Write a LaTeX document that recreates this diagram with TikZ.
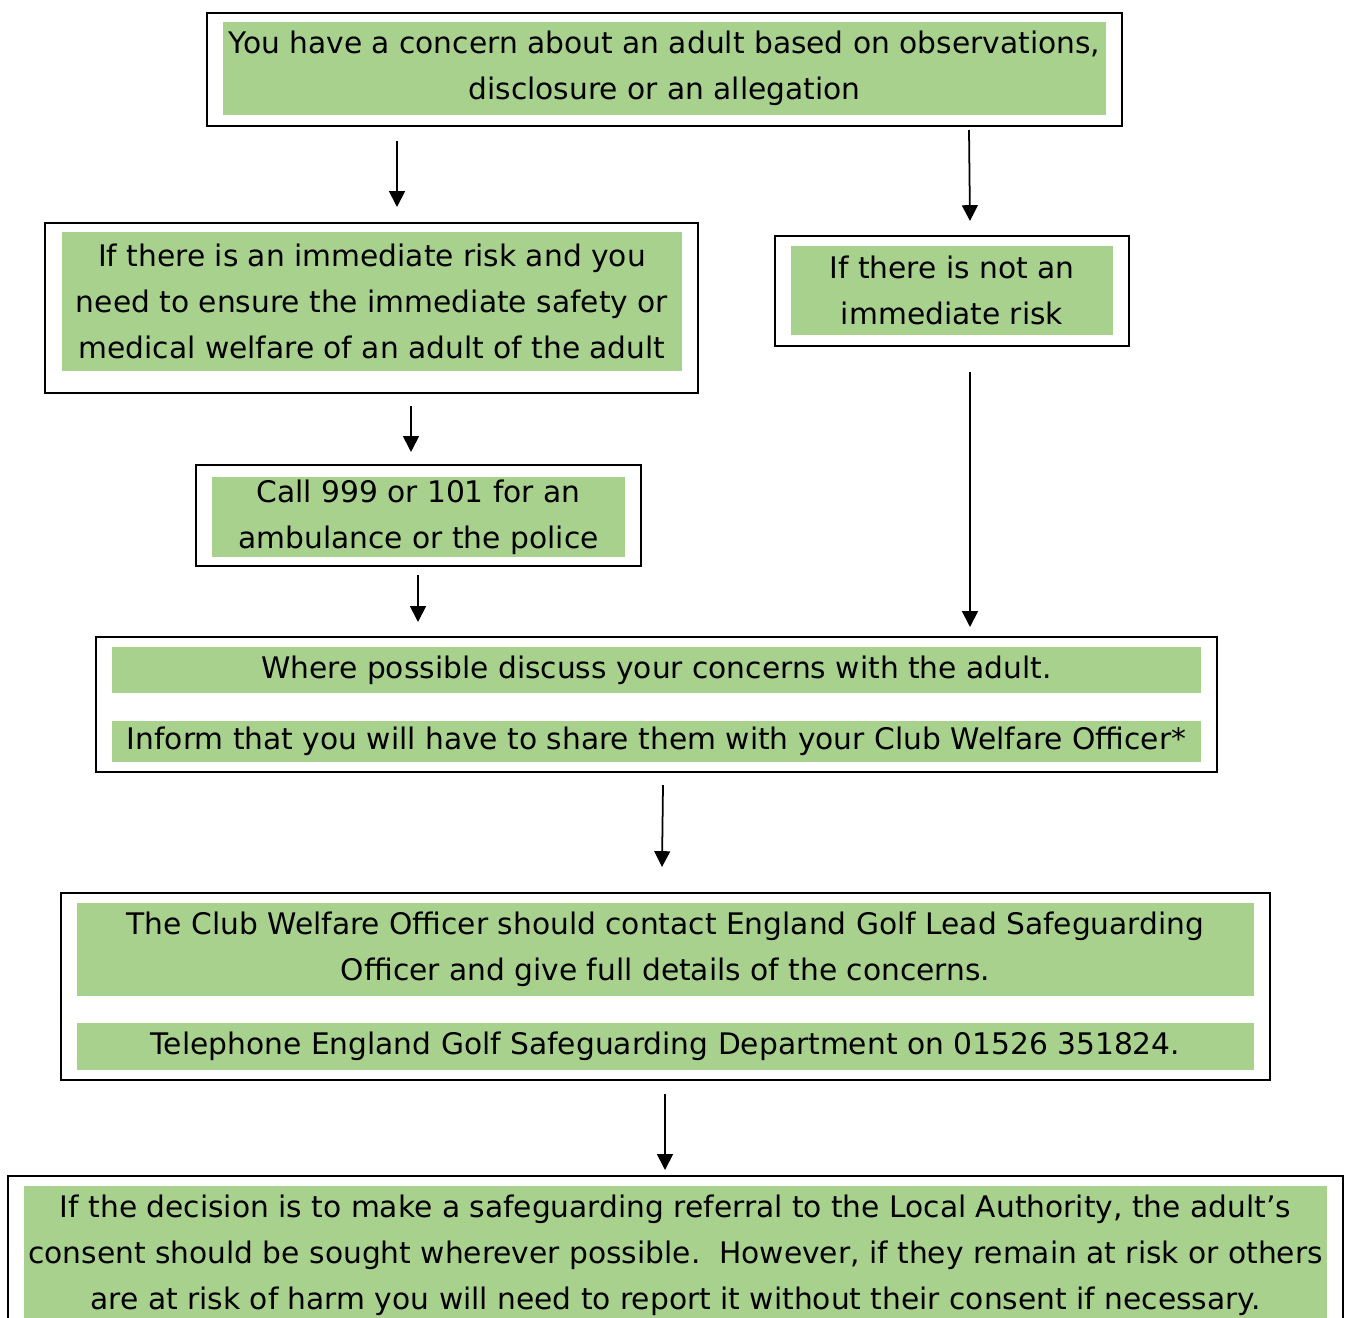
\documentclass[tikz,border=0pt]{standalone}
\usepackage{fontspec}
\setmainfont{DejaVu Sans}
\usetikzlibrary{arrows.meta}
\definecolor{boxgreen}{HTML}{A9D18E}
\newcommand\pxw{0.02cm}
\tikzset{
  framebox/.style={draw, rectangle, line width=1.1pt, inner sep=0pt},
  greenbox/.style={fill=boxgreen, rectangle, inner sep=0pt, align=center,
    font=\fontsize{16.9}{26.2}\selectfont},
  flow/.style={->,>={Triangle[width=9pt,length=9pt]},line width=1pt}
}

\begin{document}
\begin{tikzpicture}[x=0.02cm,y=-0.02cm]
\useasboundingbox (0,0) rectangle (1349,1318);
\clip (0,0) rectangle (1349,1318);

\node[framebox, minimum width=915*\pxw, minimum height=113*\pxw] (top) at (664.5,69.5) {};
\node[greenbox, minimum width=883*\pxw, minimum height=93*\pxw] (topt) at (664.5,68.5)
  {You have a concern about an adult based on observations,\\disclosure or an allegation};

\node[framebox, minimum width=653*\pxw, minimum height=170*\pxw] (risk) at (371.5,308) {};
\node[greenbox, minimum width=620*\pxw, minimum height=139*\pxw] (riskt) at (372,301)
  {If there is an immediate risk and you\\need to ensure the immediate safety or\\medical welfare of an adult of the adult};

\node[framebox, minimum width=354*\pxw, minimum height=110*\pxw] (norisk) at (952,291) {};
\node[greenbox, minimum width=322*\pxw, minimum height=89*\pxw] (noriskt) at (952,290)
  {If there is not an\\immediate risk};

\node[framebox, minimum width=445*\pxw, minimum height=101*\pxw] (call) at (418.5,515.5) {};
\node[greenbox, minimum width=413*\pxw, minimum height=80*\pxw] (callt) at (418.5,517)
  {Call 999 or 101 for an\\ambulance or the police};

\node[framebox, minimum width=1121*\pxw, minimum height=135*\pxw] (discuss) at (656.5,704.5) {};
\node[greenbox, minimum width=1089*\pxw, minimum height=46*\pxw] (discussa) at (656.5,670)
  {Where possible discuss your concerns with the adult.};
\node[greenbox, minimum width=1089*\pxw, minimum height=41*\pxw] (discussb) at (656.5,741.5)
  {Inform that you will have to share them with your Club Welfare Officer*};

\node[framebox, minimum width=1209*\pxw, minimum height=187*\pxw] (cwo) at (665.5,986.5) {};
\node[greenbox, minimum width=1177*\pxw, minimum height=93*\pxw] (cwoa) at (665.5,949.5)
  {The Club Welfare Officer should contact England Golf Lead Safeguarding\\Officer and give full details of the concerns.};
\node[greenbox, minimum width=1177*\pxw, minimum height=47*\pxw] (cwob) at (665.5,1046.5)
  {Telephone England Golf Safeguarding Department on 01526 351824.};

\node[framebox, minimum width=1335*\pxw, minimum height=170*\pxw] (refer) at (675.5,1261) {};
\node[greenbox, minimum width=1303*\pxw, minimum height=139*\pxw] (refert) at (675.5,1255)
  {If the decision is to make a safeguarding referral to the Local Authority, the adult’s\\consent should be sought wherever possible.\ \ However, if they remain at risk or others\\are at risk of harm you will need to report it without their consent if necessary.};

\coordinate (a1) at (397,141);  \coordinate (a1e) at (397,207);
\coordinate (a2) at (969,130);  \coordinate (a2e) at (970,221);
\coordinate (a3) at (411,406);  \coordinate (a3e) at (411,452);
\coordinate (a4) at (970,372);  \coordinate (a4e) at (970,627);
\coordinate (a5) at (418,575);  \coordinate (a5e) at (418,622);
\coordinate (a6) at (663,785);  \coordinate (a6e) at (662,867);
\coordinate (a7) at (665,1094); \coordinate (a7e) at (665,1170);
\draw [flow] (a1) -- (a1e);
\draw [flow] (a2) -- (a2e);
\draw [flow] (a3) -- (a3e);
\draw [flow] (a4) -- (a4e);
\draw [flow] (a5) -- (a5e);
\draw [flow] (a6) -- (a6e);
\draw [flow] (a7) -- (a7e);
\end{tikzpicture}
\end{document}
